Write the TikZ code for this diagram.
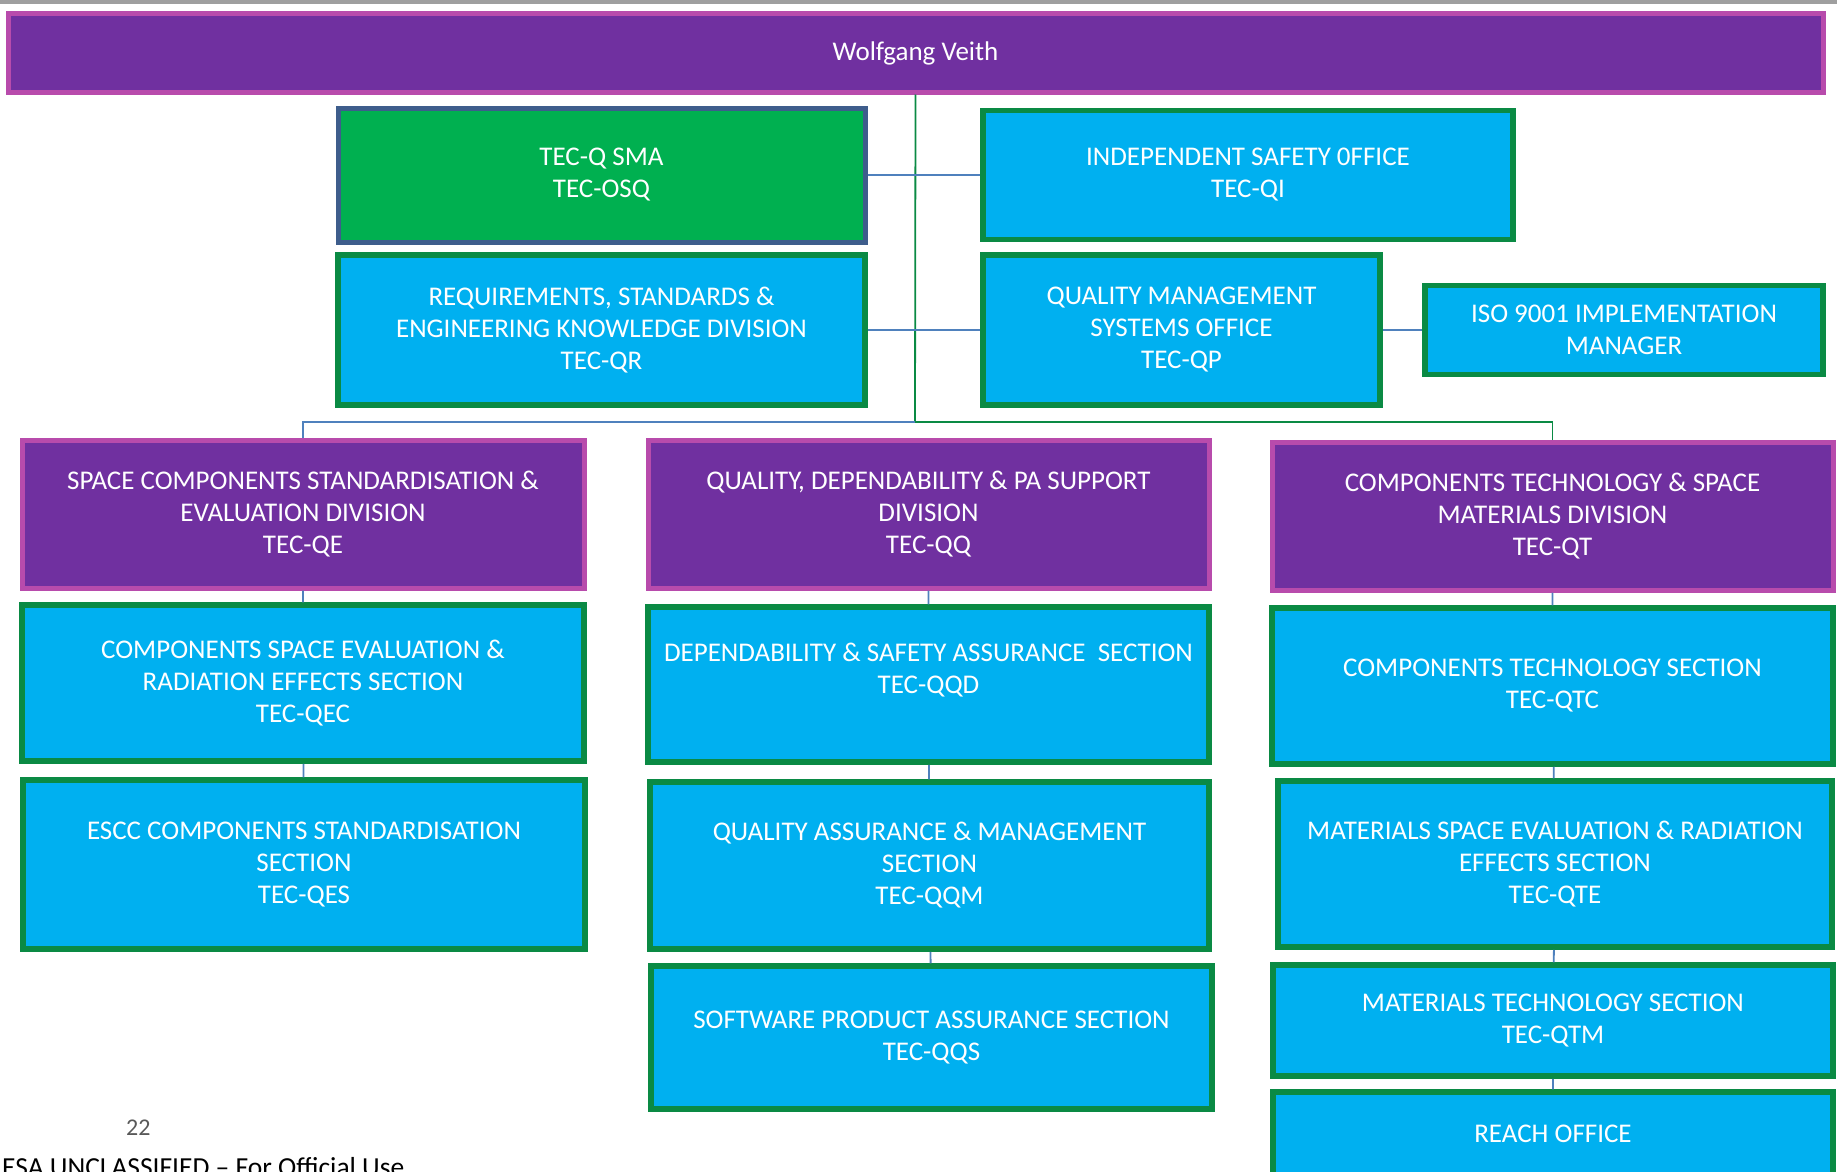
\documentclass[tikz,border=0pt]{standalone}
\usepackage{fontspec}
\setmainfont{Carlito}
\usetikzlibrary{positioning}
\definecolor{plum}{HTML}{7030A0}
\definecolor{orchid}{HTML}{B84BAC}
\definecolor{sky}{HTML}{00B0F0}
\definecolor{leaf}{HTML}{00B050}
\definecolor{pine}{HTML}{0A8A44}
\definecolor{slate}{HTML}{3E5D8C}
\definecolor{wire}{HTML}{4F81BD}
\definecolor{ash}{HTML}{595959}

\begin{document}
\begin{tikzpicture}[x=1pt,y=-1pt,
  box/.style={rectangle,align=center,text=white,inner sep=0pt,font=\fontsize{27}{32}\selectfont},
  divbox/.style={box,fill=plum,draw=orchid,line width=5pt},
  secbox/.style={box,fill=sky,draw=pine,line width=5.5pt},
  smabox/.style={box,fill=leaf,draw=slate,line width=5pt},
  link/.style={wire,line width=1.8pt},
  trunk/.style={pine,line width=1.8pt}]
\useasboundingbox (0,0) rectangle (1837,1172);
\clip (0,0) rectangle (1837,1172);
\fill[gray!75] (0,0) rectangle (1837,4);
% head and staff
\node[divbox,minimum width=1815,minimum height=78] (root) at (915.5,53) {Wolfgang Veith};
\node[smabox,minimum width=527,minimum height=134] (sma) at (601.5,175) {TEC-Q SMA\\TEC-OSQ};
\node[secbox,minimum width=530,minimum height=129] (safety) at (1248,175) {INDEPENDENT SAFETY 0FFICE\\TEC-QI};
\node[secbox,minimum width=527,minimum height=150] (req) at (601.5,330) {REQUIREMENTS, STANDARDS \&\\ENGINEERING KNOWLEDGE DIVISION\\TEC-QR};
\node[secbox,minimum width=397,minimum height=150] (qms) at (1181.5,330) {QUALITY MANAGEMENT\\SYSTEMS OFFICE\\TEC-QP};
\node[secbox,minimum width=398,minimum height=89] (iso) at (1624,330) {ISO 9001 IMPLEMENTATION\\MANAGER};
% divisions
\node[divbox,minimum width=562,minimum height=148] (qe) at (303,514) {SPACE COMPONENTS STANDARDISATION \&\\EVALUATION DIVISION\\TEC-QE};
\node[divbox,minimum width=561,minimum height=148] (qq) at (928.5,514) {QUALITY, DEPENDABILITY \& PA SUPPORT\\DIVISION\\TEC-QQ};
\node[divbox,minimum width=561,minimum height=148] (qt) at (1552.5,516) {COMPONENTS TECHNOLOGY \& SPACE\\MATERIALS DIVISION\\TEC-QT};
% sections
\node[secbox,minimum width=562,minimum height=156] (qec) at (303,683) {COMPONENTS SPACE EVALUATION \&\\RADIATION EFFECTS SECTION\\TEC-QEC};
\node[secbox,minimum width=562,minimum height=169] (qes) at (304,864.5) {ESCC COMPONENTS STANDARDISATION\\SECTION\\TEC-QES};
\node[secbox,minimum width=561,minimum height=155] (qqd) at (928.5,684.5) {DEPENDABILITY \& SAFETY ASSURANCE\ \ SECTION\\TEC-QQD\\~};
\node[secbox,minimum width=559,minimum height=167] (qqm) at (929.5,865.5) {QUALITY ASSURANCE \& MANAGEMENT\\SECTION\\TEC-QQM};
\node[secbox,minimum width=561,minimum height=143] (qqs) at (931.5,1037.5) {SOFTWARE PRODUCT ASSURANCE SECTION\\TEC-QQS};
\node[secbox,minimum width=561,minimum height=156] (qtc) at (1552.5,686) {COMPONENTS TECHNOLOGY SECTION\\TEC-QTC};
\node[secbox,minimum width=554,minimum height=166] (qte) at (1555,864) {MATERIALS SPACE EVALUATION \& RADIATION\\EFFECTS SECTION\\TEC-QTE};
\node[secbox,minimum width=560,minimum height=111] (qtm) at (1553,1020.5) {MATERIALS TECHNOLOGY SECTION\\TEC-QTM};
\node[secbox,minimum width=560,minimum height=84] (reach) at (1553,1134) {REACH OFFICE};
% connectors
\coordinate (hub) at (915,422);
\draw[trunk] (root.south) -- (hub);
\draw[link] (hub) -| (qe.north);
\draw[trunk] (hub) -| (qt.north);
\draw[link] (sma.east) -- (safety.west);
\draw[link] (req.east) -- (qms.west);
\draw[link] (qms.east) -- (iso.west);
\draw[link] (qe) -- (qec) (qec) -- (qes);
\draw[link] (qq) -- (qqd) (qqd) -- (qqm) (qqm) -- (qqs);
\draw[link] (qt) -- (qtc) (qtc) -- (qte) (qte) -- (qtm) (qtm) -- (reach);
% footer
\node[anchor=north west,text=ash,inner sep=0pt,font=\fontsize{24}{24}\selectfont] (page) at (126,1120) {22};
\node[anchor=north west,inner sep=0pt,font=\fontsize{27.5}{27.5}\selectfont] (mark) at (2,1157) {ESA UNCLASSIFIED -- For Official Use};
\end{tikzpicture}
\end{document}
